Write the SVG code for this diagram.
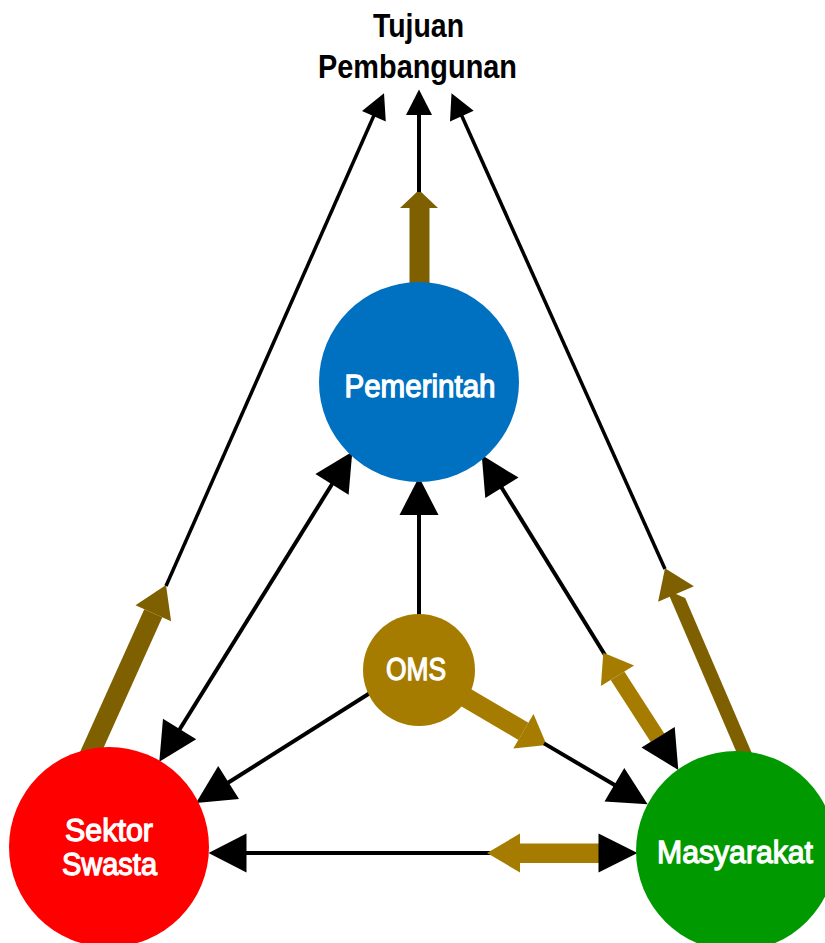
<svg xmlns="http://www.w3.org/2000/svg" width="825" height="943" viewBox="0 0 825 943">
  <style>
    .ln { stroke: #000; stroke-width: 3.5; fill: none; }
    .lnb { stroke: #000; stroke-width: 4; fill: none; }
    .hd { fill: #000; }
    .dk { fill: #7F6000; }
    .lt { fill: #A67C00; }
    .lbl { font-family: "Liberation Sans", Arial, sans-serif; font-weight: normal; font-size: 32px; fill: #fff; stroke: #fff; stroke-width: 1.3; text-anchor: middle; }
    .ttl { font-family: "Liberation Sans", Arial, sans-serif; font-weight: bold; font-size: 33px; fill: #000; text-anchor: middle; }
  </style>
  <rect width="825" height="943" fill="#fff"/>

  <g id="connectors">
    <!-- Pemerintah up to goal: wide shaft, then thin line -->
    <rect class="dk" x="409.5" y="206" width="20" height="100"/>
    <polygon class="dk" points="400,208 438,208 419,190"/>
    <line class="lnb" x1="419" y1="192" x2="419" y2="112"/>
    <polygon class="hd" points="406,115 432,115 419,89.5"/>

    <!-- Sektor Swasta up to goal -->
    <polygon class="dk" points="144.3,609.3 162.3,617.3 85.3,788.3 67.3,780.3"/>
    <polygon class="dk" points="171.1,621.3 135.5,605.3 166,585"/>
    <line class="ln" x1="166" y1="586" x2="375" y2="113"/>
    <polygon class="hd" points="385.8,121.5 362,110.9 384,93.3"/>

    <!-- Masyarakat up to goal -->
    <polygon class="dk" points="666.8,590.1 685.2,598 761.7,776 743.3,768"/>
    <polygon class="dk" points="693.9,586.3 658.1,601.7 665,568.3"/>
    <line class="ln" x1="665" y1="569" x2="460.5" y2="113"/>
    <polygon class="hd" points="473.7,110.8 450,121.4 451.5,93.3"/>

    <!-- OMS up to Pemerintah -->
    <line class="lnb" x1="419" y1="620" x2="419" y2="512"/>
    <polygon class="hd" points="399.5,515 438.5,515 419,477"/>

    <!-- Pemerintah and Sektor Swasta, both ways -->
    <line class="lnb" x1="334" y1="481" x2="178" y2="732"/>
    <polygon class="hd" points="348.6,494.7 315.4,474.1 352.3,451.7"/>
    <polygon class="hd" points="196.2,739.3 163,718.7 159.3,761.7"/>

    <!-- Pemerintah and Masyarakat, both ways -->
    <line class="lnb" x1="500" y1="485" x2="605" y2="655"/>
    <polygon class="hd" points="518.5,477.6 485.3,498 481.7,455"/>
    <polygon class="lt" points="610.7,680 624.3,671.4 664.3,733.4 650.7,742"/>
    <polygon class="lt" points="634.1,665.5 600.9,685.9 603.3,652.7"/>
    <polygon class="hd" points="674.7,727 641.5,747.4 678.3,770"/>

    <!-- OMS to Masyarakat -->
    <polygon class="lt" points="414,678.6 424,661.4 528.4,722.7 518.4,739.9"/>
    <polygon class="lt" points="513.3,748.5 533.5,714.1 546.7,745"/>
    <line class="lnb" x1="544" y1="743.4" x2="618" y2="787"/>
    <polygon class="hd" points="604.5,801.6 624.3,768 647.6,804.3"/>

    <!-- OMS to Sektor Swasta -->
    <line class="lnb" x1="419" y1="662" x2="226" y2="784"/>
    <polygon class="hd" points="239,799 218.2,766 196,803"/>

    <!-- Sektor Swasta and Masyarakat, both ways -->
    <line class="lnb" x1="243" y1="853" x2="520" y2="853"/>
    <polygon class="hd" points="246.5,833.5 246.5,872.5 208.5,853"/>
    <rect class="lt" x="518" y="843.5" width="82" height="19.5"/>
    <polygon class="lt" points="520,833.5 520,872.5 487,853"/>
    <polygon class="hd" points="598.5,833.5 598.5,872.5 637.5,853"/>
  </g>

  <g id="goal">
    <text class="ttl" x="418.5" y="37" textLength="91" lengthAdjust="spacingAndGlyphs">Tujuan</text>
    <text class="ttl" x="417.5" y="78" textLength="199" lengthAdjust="spacingAndGlyphs">Pembangunan</text>
  </g>

  <g id="pemerintah">
    <circle cx="419" cy="382" r="100" fill="#0070C0"/>
    <text class="lbl" x="420" y="397" textLength="151" lengthAdjust="spacingAndGlyphs">Pemerintah</text>
  </g>

  <g id="oms">
    <circle cx="419" cy="670" r="56" fill="#A67C00"/>
    <text class="lbl" x="416" y="680" textLength="60" lengthAdjust="spacingAndGlyphs">OMS</text>
  </g>

  <g id="sektor-swasta">
    <circle cx="109" cy="847" r="100" fill="#FF0000"/>
    <text class="lbl" x="109" y="841" textLength="88" lengthAdjust="spacingAndGlyphs">Sektor</text>
    <text class="lbl" x="109.5" y="875" textLength="95" lengthAdjust="spacingAndGlyphs">Swasta</text>
  </g>

  <g id="masyarakat">
    <circle cx="736" cy="851" r="100" fill="#009900"/>
    <text class="lbl" x="735" y="863" textLength="156" lengthAdjust="spacingAndGlyphs">Masyarakat</text>
  </g>
</svg>
